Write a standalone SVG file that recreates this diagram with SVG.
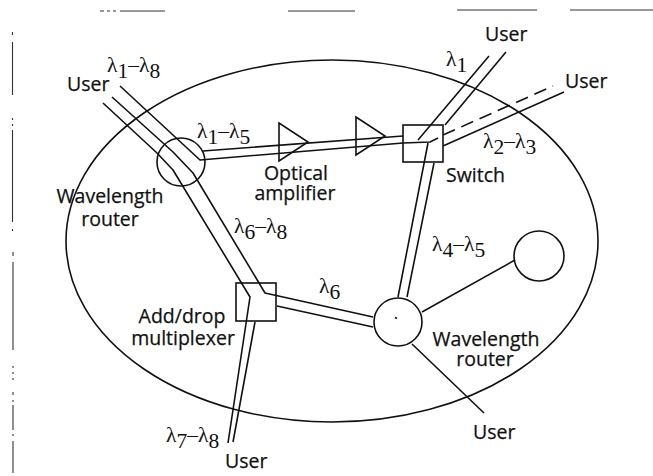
<svg xmlns="http://www.w3.org/2000/svg" width="653" height="476" viewBox="0 0 653 476">
<style>
.l{fill:none;stroke:#111;stroke-width:1.6;stroke-linejoin:round}
.n{fill:none;stroke:#111;stroke-width:1.6}
.s{fill:none;stroke:#333;stroke-width:1.1}
.t{font-family:"Open Sans","Noto Sans",sans-serif;font-size:19.500px;fill:#111;stroke:#111;stroke-width:.25}
.m{text-anchor:middle}
.g{font-family:"Liberation Serif",serif;font-size:21.500px;fill:#111}
</style>
<rect width="653" height="476" fill="#fff"/>
<g id="scan-edges">
<path class="s" d="M100 11h4M107 11h3M113 11h3M120 11h45M288 11h67M457 10h80M570 10h83M12.500 32v3M12.500 42v53M12.500 118v2M12.500 124v2M12.500 130v92M12.500 229v2M13 252v4M13 262v88M13 366v2M13 372v2M13 378v2M13 392v3M13 400v2M13 405v25M13 434v2M13 441v32"/>
</g>
<g id="network-boundary"><ellipse class="n" cx="332" cy="241" rx="266" ry="181"/></g>
<g id="connectors">
<path class="l" d="M120 86L200 160L403 143M403 136L203 151M112 97L173 152L193 173L265 293L373 317M103 103L157 153L173 170L250 297L228 443M277 306L373 327M255 322L233 442"/>
<path class="l" d="M403 143L430 142L438 138M418 140L489 56M445 125L506 52M443 146L564 92M428 143L398 297M434 163L407 297M422 312L515 260M412 344L484 413"/>
<path class="l" stroke-dasharray="13 7" d="M443 135L553 86"/>
</g>
<g id="wavelength-router-1"><circle class="n" cx="181" cy="162" r="24"/>
<text class="t m" x="110" y="203"><tspan x="110">Wavelength</tspan><tspan x="110" dy="23">router</tspan></text></g>
<g id="amplifier-1"><path class="n" d="M279 123V161L308 142Z"/></g>
<g id="amplifier-2"><path class="n" d="M356 117V155L385 136Z"/>
<text class="t m" x="296" y="180"><tspan x="296">Optical</tspan><tspan x="295" dy="20">amplifier</tspan></text></g>
<g id="switch"><rect class="n" x="403" y="125" width="40" height="37"/><text class="t" x="446" y="182">Switch</text></g>
<g id="add-drop-multiplexer"><rect class="n" x="236" y="283" width="40" height="38"/>
<text class="t m" x="182" y="323"><tspan x="182">Add/drop</tspan><tspan x="183" dy="22">multiplexer</tspan></text></g>
<g id="wavelength-router-2"><circle class="n" cx="398" cy="322" r="24"/><path class="l" d="M395 317.500l2 1"/>
<text class="t m" x="486" y="346"><tspan x="486">Wavelength</tspan><tspan x="485" dy="20">router</tspan></text></g>
<g id="node-3"><circle class="n" cx="539" cy="256" r="25"/></g>
<g id="user-labels">
<text class="t" x="67" y="91">User</text><text class="t" x="485" y="41">User</text><text class="t" x="565" y="88">User</text><text class="t" x="473" y="439">User</text><text class="t" x="225" y="468">User</text>
</g>
<g id="wavelength-labels">
<text class="g" x="107" y="72">λ<tspan dy="6">1</tspan><tspan dy="-6">–λ</tspan><tspan dy="6">8</tspan></text>
<text class="g" x="197" y="138">λ<tspan dy="6">1</tspan><tspan dy="-6">–λ</tspan><tspan dy="6">5</tspan></text>
<text class="g" x="234" y="233">λ<tspan dy="6">6</tspan><tspan dy="-6">–λ</tspan><tspan dy="6">8</tspan></text>
<text class="g" x="446" y="66">λ<tspan dy="6">1</tspan></text>
<text class="g" x="483" y="148">λ<tspan dy="6">2</tspan><tspan dy="-6">–λ</tspan><tspan dy="6">3</tspan></text>
<text class="g" x="432" y="251">λ<tspan dy="6">4</tspan><tspan dy="-6">–λ</tspan><tspan dy="6">5</tspan></text>
<text class="g" x="319" y="293">λ<tspan dy="6">6</tspan></text>
<text class="g" x="166" y="442">λ<tspan dy="6">7</tspan><tspan dy="-6">–λ</tspan><tspan dy="6">8</tspan></text>
</g>
</svg>
